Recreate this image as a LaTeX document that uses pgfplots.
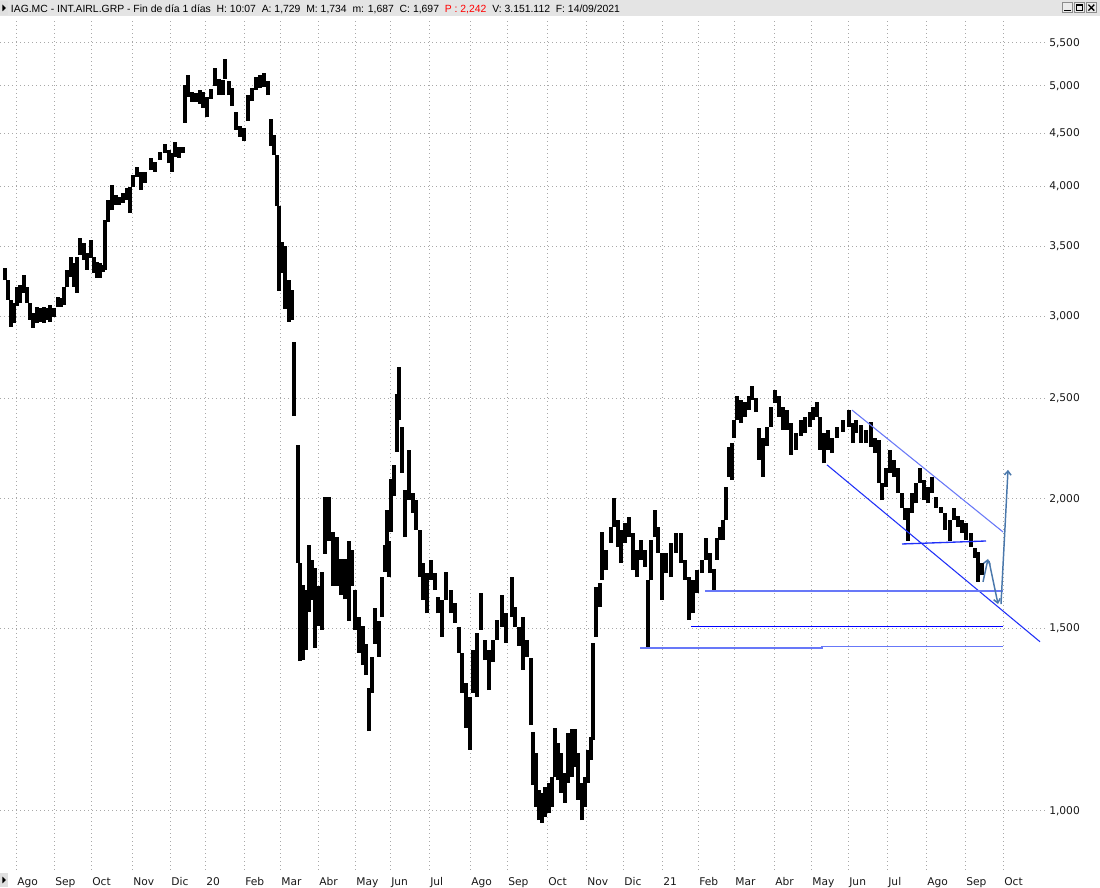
\documentclass[border=0pt]{standalone}
\usepackage{fontspec}
\setmainfont{DejaVu Sans}
\newfontfamily\titlefont{Liberation Sans}
\usepackage{pgfplots}
\usepackage{pgfplotstable}
\pgfplotsset{compat=1.18}
\usetikzlibrary{arrows.meta}
\definecolor{gridgray}{HTML}{A8A8A8}
\definecolor{barbg}{HTML}{E4E4E4}
\definecolor{trend}{HTML}{2030F8}
\definecolor{trendlight}{HTML}{6878F8}
\definecolor{arrowblue}{HTML}{4A78AC}

\pgfplotstableread{
x lo hi
5 3.250 3.337
8 3.109 3.250
11 2.928 3.109
14 2.954 3.088
17 3.068 3.200
20 3.088 3.214
24 3.158 3.286
27 3.088 3.200
30 2.974 3.088
33 2.922 3.020
37 2.954 3.061
40 2.961 3.054
44 2.954 3.061
47 2.974 3.054
50 2.961 3.075
54 2.994 3.054
58 3.061 3.130
61 3.061 3.123
64 3.075 3.200
67 3.200 3.323
71 3.272 3.421
74 3.200 3.375
77 3.158 3.421
80 3.436 3.568
84 3.398 3.529
87 3.323 3.451
91 3.413 3.552
94 3.302 3.421
97 3.265 3.382
100 3.265 3.375
103 3.310 3.360
105 3.323 3.713
108 3.697 3.882
112 3.796 4.013
116 3.839 3.925
119 3.839 3.908
123 3.856 3.943
127 3.882 3.987
130 3.771 3.996
133 3.996 4.103
137 4.085 4.177
141 3.969 4.131
145 4.031 4.131
151 4.149 4.261
155 4.131 4.223
160 4.242 4.318
165 4.308 4.395
169 4.213 4.337
172 4.131 4.308
175 4.270 4.414
179 4.261 4.366
183 4.308 4.366
185 4.606 5.011
188 4.880 5.120
192 4.825 4.933
196 4.825 4.922
200 4.804 4.955
203 4.761 4.933
207 4.666 4.880
211 4.860 4.970
215 5.000 5.200
219 4.900 5.077
223 4.900 5.066
225 5.077 5.310
229 4.900 5.055
232 4.783 4.977
236 4.534 4.719
240 4.464 4.575
244 4.424 4.554
248 4.625 4.900
252 4.835 4.977
256 4.955 5.100
260 4.977 5.120
264 4.990 5.140
268 4.900 5.055
271 4.376 4.646
274 4.289 4.484
277 3.830 4.289
279 3.172 3.830
282 3.302 3.536
285 3.048 3.505
289 2.961 3.250
292 2.974 3.179
294 2.403 2.833
298 1.734 2.254
300 1.395 1.734
303 1.398 1.652
306 1.430 1.633
309 1.555 1.805
312 1.597 1.746
315 1.436 1.715
318 1.508 1.648
322 1.495 1.700
325 1.770 2.008
329 1.821 2.008
333 1.648 1.858
337 1.648 1.837
341 1.615 1.750
345 1.600 1.750
349 1.525 1.821
352 1.648 1.785
355 1.495 1.633
359 1.421 1.538
363 1.382 1.508
366 1.352 1.449
369 1.194 1.314
372 1.300 1.408
375 1.449 1.568
379 1.408 1.525
382 1.538 1.681
385 1.700 1.805
387 1.805 1.951
389 1.681 1.821
391 1.858 2.090
394 2.012 2.156
397 2.219 2.523
399 2.382 2.680
402 2.118 2.345
405 1.837 2.039
409 1.994 2.229
413 1.938 2.025
416 1.866 1.994
420 1.681 1.866
423 1.597 1.734
427 1.551 1.696
431 1.670 1.746
435 1.633 1.696
438 1.551 1.608
442 1.472 1.597
446 1.597 1.700
451 1.551 1.633
455 1.518 1.587
459 1.421 1.505
462 1.300 1.421
466 1.203 1.329
470 1.145 1.288
473 1.300 1.430
477 1.288 1.485
481 1.495 1.623
485 1.398 1.462
489 1.308 1.430
493 1.392 1.462
497 1.462 1.528
502 1.505 1.615
506 1.452 1.551
512 1.538 1.681
515 1.505 1.572
519 1.443 1.505
523 1.368 1.538
527 1.408 1.462
531 1.210 1.405
533 1.059 1.191
536 1.009 1.138
539 0.980 1.048
542 0.974 1.041
545 0.987 1.055
549 0.996 1.064
552 1.009 1.078
555 1.078 1.203
558 1.071 1.163
561 1.041 1.138
565 1.018 1.088
568 1.064 1.189
572 1.078 1.200
575 1.103 1.200
578 1.025 1.138
582 0.980 1.064
585 1.009 1.078
588 1.064 1.145
591 1.120 1.178
593 1.171 1.452
596 1.472 1.644
600 1.572 1.659
602 1.670 1.858
606 1.707 1.785
611 1.813 1.878
614 1.878 2.003
618 1.797 1.908
621 1.734 1.866
625 1.813 1.895
629 1.837 1.921
633 1.707 1.854
637 1.681 1.785
641 1.746 1.825
645 1.719 1.785
648 1.440 1.670
651 1.670 1.825
655 1.837 1.951
658 1.773 1.878
662 1.597 1.773
666 1.696 1.773
671 1.681 1.813
676 1.773 1.854
681 1.734 1.854
685 1.670 1.746
689 1.528 1.681
693 1.551 1.670
697 1.622 1.707
702 1.696 1.746
706 1.746 1.833
710 1.696 1.773
714 1.633 1.711
717 1.746 1.833
720 1.825 1.878
723 1.825 1.908
726 1.908 2.054
729 2.100 2.244
732 2.085 2.263
734 2.290 2.382
737 2.382 2.512
741 2.366 2.490
745 2.400 2.480
749 2.435 2.512
752 2.490 2.570
756 2.424 2.500
759 2.180 2.340
763 2.100 2.290
767 2.250 2.345
771 2.345 2.450
775 2.474 2.546
779 2.400 2.512
783 2.330 2.450
787 2.330 2.435
791 2.204 2.366
796 2.229 2.313
801 2.300 2.382
805 2.313 2.400
810 2.345 2.424
813 2.380 2.450
817 2.400 2.480
820 2.229 2.400
824 2.163 2.313
828 2.229 2.330
832 2.213 2.290
837 2.290 2.345
843 2.320 2.382
849 2.345 2.435
853 2.263 2.366
856 2.313 2.382
861 2.263 2.355
866 2.263 2.330
871 2.244 2.370
875 2.213 2.290
879 2.070 2.278
882 1.994 2.070
886 2.054 2.140
890 2.118 2.229
894 2.100 2.180
898 2.025 2.140
902 1.960 2.025
905 1.908 1.960
908 1.820 1.960
912 1.938 2.025
916 1.980 2.070
920 2.070 2.140
924 1.994 2.085
928 1.980 2.054
932 2.025 2.100
936 1.960 2.008
941 1.940 1.965
945 1.866 1.938
950 1.821 1.908
954 1.908 1.960
958 1.878 1.925
962 1.854 1.908
966 1.825 1.895
971 1.797 1.854
975 1.754 1.793
978 1.663 1.777
982 1.687 1.734
}\ohlc

\begin{document}
\begin{tikzpicture}
\useasboundingbox (0,0) rectangle (825pt,666pt);
\fill[white] (0,0) rectangle (825pt,666pt);
\begin{axis}[
  at={(0pt,13.5pt)}, anchor=south west,
  scale only axis, width=783.75pt, height=639pt,
  xmin=0, xmax=1045, ymode=log, ymin=0.87725, ymax=5.8137,
  axis line style={draw=none},
  major tick length=0pt,
  xtick={16,54,91,132,170,205,244,280,318,355,390,429,470,507,547,586,623,662,698,734,774,811,848,887,926,965,1003},
  xticklabels={Ago,Sep,Oct,Nov,Dic,20,Feb,Mar,Abr,May,Jun,Jul,Ago,Sep,Oct,Nov,Dic,21,Feb,Mar,Abr,May,Jun,Jul,Ago,Sep,Oct},
  ytick={1,1.5,2,2.5,3,3.5,4,4.5,5,5.5},
  yticklabels={{1,000},{1,500},{2,000},{2,500},{3,000},{3,500},{4,000},{4,500},{5,000},{5,500}},
  yticklabel pos=right,
  grid=major,
  major grid style={gridgray, line width=0.75pt, dash pattern=on 0.75pt off 2.25pt},
  tick label style={font=\fontsize{8}{9}\selectfont, text=black!90},
  xticklabel style={anchor=north west, inner sep=0pt, xshift=0.8pt, yshift=-5.5pt},
  yticklabel style={anchor=west, inner sep=0pt, xshift=3pt},
]
\addplot[draw=none, mark=none,
  error bars/.cd, y dir=plus, y explicit, error mark=none,
  error bar style={draw=black, solid, line width=2.6pt}]
  table[x=x, y=lo, y error plus expr={\thisrow{hi}-\thisrow{lo}}] {\ohlc};
\addplot[trendlight, line width=0.8pt] coordinates {(852,2.435) (1003,1.858)};
\addplot[trend, line width=0.8pt] coordinates {(827,2.156) (1040,1.456)};
\addplot[trend, line width=1pt] coordinates {(902,1.809) (986,1.821)};
\addplot[trendlight, line width=1.1pt] coordinates {(705,1.629) (1003,1.629)};
\addplot[color=blue, solid, line width=1.2pt] coordinates {(691,1.506) (850,1.506) (1003,1.506)};
\addplot[trendlight, line width=1.1pt] coordinates {(640,1.436) (822,1.436) (822,1.440) (1003,1.440)};
\addplot[arrowblue, line width=1.1pt, -{Straight Barb[length=3pt,width=5pt]}] coordinates {(983,1.663) (988,1.750)};
\addplot[arrowblue, line width=1.1pt, -{Straight Barb[length=3pt,width=5pt]}] coordinates {(989,1.742) (998,1.583)};
\addplot[arrowblue, line width=1.1pt, -{Straight Barb[length=3pt,width=5pt]}] coordinates {(1001,1.583) (1008,2.132)};
\end{axis}
% title bar
\fill[barbg] (0,654pt) rectangle (825pt,666pt);
\fill[black!12] (0,654.5pt) rectangle (6pt,665.5pt);
\fill[black] (1.8pt,662.5pt) -- (4.5pt,660pt) -- (1.8pt,657.5pt) -- cycle;
\node[anchor=base west, inner sep=0pt, font=\titlefont\fontsize{7.8}{9}\selectfont] at (8pt,656.8pt)
 {IAG.MC - INT.AIRL.GRP - Fin de día 1 días\ \ H: 10:07\ \ A: 1,729\ \ M: 1,734\ \ m: 1,687\ \ C: 1,697\ \ \textcolor{red}{P : 2,242}\ \ V: 3.151.112\ \ F: 14/09/2021};
% window buttons
\draw[black!45, fill=black!8, line width=0.4pt] (796.5pt,656.5pt) rectangle (804.5pt,664pt);
\fill[black] (798pt,657.5pt) rectangle (803pt,658.8pt);
\draw[black!45, fill=black!8, line width=0.4pt] (805.5pt,656.5pt) rectangle (813.5pt,664pt);
\draw[black, line width=0.6pt] (807pt,658pt) rectangle (812pt,662.5pt);
\fill[black] (807pt,661.8pt) rectangle (812pt,662.8pt);
\draw[black!45, fill=black!8, line width=0.4pt] (814.5pt,656.5pt) rectangle (822.5pt,664pt);
\draw[black, line width=1pt] (816.3pt,658pt) -- (820.7pt,662.5pt) (816.3pt,662.5pt) -- (820.7pt,658pt);
% bottom-left marker
\fill[black!12] (0,0.5pt) rectangle (6pt,11pt);
\fill[black] (1.8pt,8.5pt) -- (4.5pt,6pt) -- (1.8pt,3.5pt) -- cycle;
\end{tikzpicture}
\end{document}
